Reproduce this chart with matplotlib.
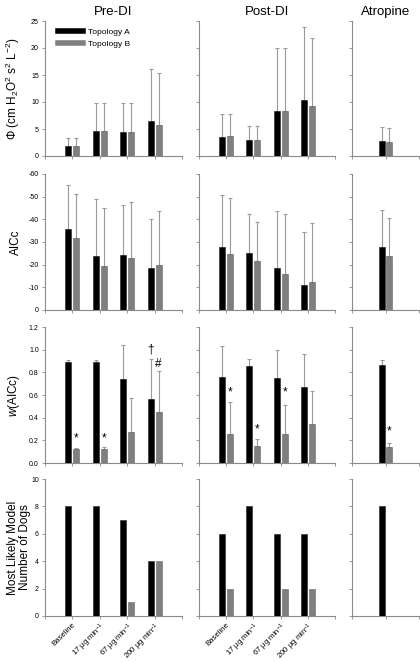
import matplotlib
matplotlib.use("Agg")
import matplotlib.pyplot as plt
from matplotlib.lines import Line2D
import numpy as np

plt.rcParams["font.family"] = ["Liberation Sans", "DejaVu Sans"]
plt.rcParams["mathtext.fontset"] = "custom"
plt.rcParams["mathtext.rm"] = "Liberation Sans"
plt.rcParams["mathtext.it"] = "Liberation Sans:italic"

conditions = ["Pre-DI", "Post-DI", "Atropine"]
doses = ["Baseline", "17 \u00b5g min$^{-1}$", "67 \u00b5g min$^{-1}$", "200 \u00b5g min$^{-1}$"]

# Phi (cm H2O^2 s^2 L^-2): mean and SD, per condition
phi_a = [[1.8, 4.7, 4.5, 6.5], [3.6, 3.0, 8.4, 10.4], [2.7]]
phi_a_sd = [[1.5, 5.1, 5.4, 9.6], [4.1, 2.5, 11.6, 13.4], [2.6]]
phi_b = [[1.8, 4.7, 4.5, 5.7], [3.7, 3.0, 8.4, 9.2], [2.6]]
phi_b_sd = [[1.5, 5.1, 5.4, 9.6], [4.0, 2.5, 11.6, 12.7], [2.6]]

# AICc
aic_a = [[-35.7, -23.7, -24.3, -18.7], [-27.6, -25.1, -18.4, -10.9], [-27.6]]
aic_a_sd = [[19.4, 25.4, 22.0, 21.6], [23.1, 17.1, 25.1, 23.4], [16.4]]
aic_b = [[-31.6, -19.6, -22.8, -19.7], [-24.6, -21.6, -15.9, -12.5], [-24.0]]
aic_b_sd = [[19.4, 25.5, 24.8, 24.1], [24.7, 17.1, 26.3, 25.7], [16.4]]

# w(AICc)
w_a = [[0.89, 0.89, 0.74, 0.565], [0.757, 0.857, 0.748, 0.671], [0.866]]
w_a_sd = [[0.015, 0.015, 0.30, 0.355], [0.278, 0.059, 0.25, 0.293], [0.041]]
w_b = [[0.12, 0.12, 0.27, 0.45], [0.254, 0.151, 0.26, 0.34], [0.142]]
w_b_sd = [[0.01, 0.02, 0.30, 0.36], [0.284, 0.059, 0.25, 0.296], [0.038]]

# most likely model, number of dogs
dogs_a = [[8, 8, 7, 4], [6, 8, 6, 6], [8]]
dogs_b = [[0, 0, 1, 4], [2, 0, 2, 2], [0]]

# significance marks in the w(AICc) row: (condition, group, topology, symbol, y)
marks = [
    (0, 0, "B", "*", 0.22), (0, 1, "B", "*", 0.22),
    (0, 3, "A", "\u2020", 1.0), (0, 3, "B", "#", 0.87),
    (1, 0, "B", "*", 0.62), (1, 1, "B", "*", 0.30), (1, 2, "B", "*", 0.62),
    (2, 0, "B", "*", 0.28),
]

W, H = 420, 662
col_px = [(45, 182), (199, 335), (352, 419)]
row_px = [(21, 156), (174, 310), (327, 463), (479, 616)]
spine_c = "#8a8a8a"
err_c = "#9a9a9a"

rows = [
    (phi_a, phi_a_sd, phi_b, phi_b_sd, (0, 25), np.arange(0, 26, 5), "{:g}"),
    (aic_a, aic_a_sd, aic_b, aic_b_sd, (0, -60), np.arange(0, -61, -10), "{:g}"),
    (w_a, w_a_sd, w_b, w_b_sd, (0, 1.2), np.arange(0, 1.21, 0.2), "{:.1f}"),
    (dogs_a, None, dogs_b, None, (0, 10), np.arange(0, 11, 2), "{:g}"),
]
ylabels = ["\u03a6 (cm H$_2$O$^2$ s$^2$ L$^{-2}$)", "AICc",
           "$\\it{w}$(AICc)", "Most Likely Model\nNumber of Dogs"]
ylabel_x = [-0.165, -0.165, -0.165, -0.105]

fig = plt.figure(figsize=(W / 100, H / 100), dpi=100)
slot_px = (182 - 45) / 5.0

for r, (ya, ya_sd, yb, yb_sd, ylim, yticks, fmt) in enumerate(rows):
    top, bot = row_px[r]
    for c, cond in enumerate(conditions):
        left, right = col_px[c]
        ax = fig.add_axes([left / W, 1 - bot / H, (right - left) / W, (bot - top) / H])
        n = len(ya[c])
        nslots = n + 1
        unit = (right - left) / nslots / slot_px  # keep bar pixel size constant
        bw = 0.22 / unit
        off = 0.145 / unit
        x = np.arange(1, n + 1)
        xa, xb = x - off, x + off
        ax.bar(xa, ya[c], bw, color="black", edgecolor="#222222", lw=0.4, zorder=3)
        ax.bar(xb, yb[c], bw, color="#7f7f7f", edgecolor="#666666", lw=0.4, zorder=3)
        if ya_sd is not None:
            for xx, v, sd in [(xa, ya[c], ya_sd[c]), (xb, yb[c], yb_sd[c])]:
                v = np.asarray(v)
                sd = np.asarray(sd)
                lo = np.where(v < 0, sd, 0)
                hi = np.where(v < 0, 0, sd)
                ax.errorbar(xx, v, yerr=[lo, hi], fmt="none", ecolor=err_c,
                            elinewidth=0.8, capsize=1.3, capthick=0.8, zorder=2)
        if r == 2:
            for mc, g, topo, sym, yy in marks:
                if mc != c:
                    continue
                xm = (g + 1) + (off if topo == "B" else -off)
                ax.text(xm, yy, sym, ha="center", va="center", fontsize=8.5, zorder=4)
        ax.set_xlim(0, nslots)
        ax.set_ylim(*ylim)
        ax.set_xticks(np.arange(0, nslots + 1))
        ax.set_yticks(yticks)
        for s in ["top", "right"]:
            ax.spines[s].set_visible(False)
        for s in ["left", "bottom"]:
            ax.spines[s].set_color(spine_c)
            ax.spines[s].set_linewidth(0.8)
        ax.tick_params(length=2.5, width=0.6, color=spine_c, labelsize=5, pad=2)
        if r == 3 and c < 2:
            ax.set_xticklabels([""] + doses + [""], rotation=45, ha="right",
                               rotation_mode="anchor", fontsize=5.6)
            ax.tick_params(axis="x", pad=1)
        else:
            ax.set_xticklabels([])
        if c == 0:
            ax.set_yticklabels([fmt.format(t) for t in yticks])
            ax.set_ylabel(ylabels[r], fontsize=8.5, linespacing=1.0)
            ax.yaxis.set_label_coords(ylabel_x[r], 0.5)
        else:
            ax.set_yticklabels([])
        if r == 0:
            ax.set_title(cond, fontsize=9.5, pad=4)
        if r == 0 and c == 0:
            handles = [Line2D([], [], color="black", lw=4),
                       Line2D([], [], color="#7f7f7f", lw=4)]
            ax.legend(handles, ["Topology A", "Topology B"], loc="upper left",
                      bbox_to_anchor=(0.07, 0.97), frameon=False, fontsize=6,
                      handlelength=3.0, handletextpad=0.6, labelspacing=0.5,
                      borderaxespad=0)

fig.savefig("out.png", dpi=100)
